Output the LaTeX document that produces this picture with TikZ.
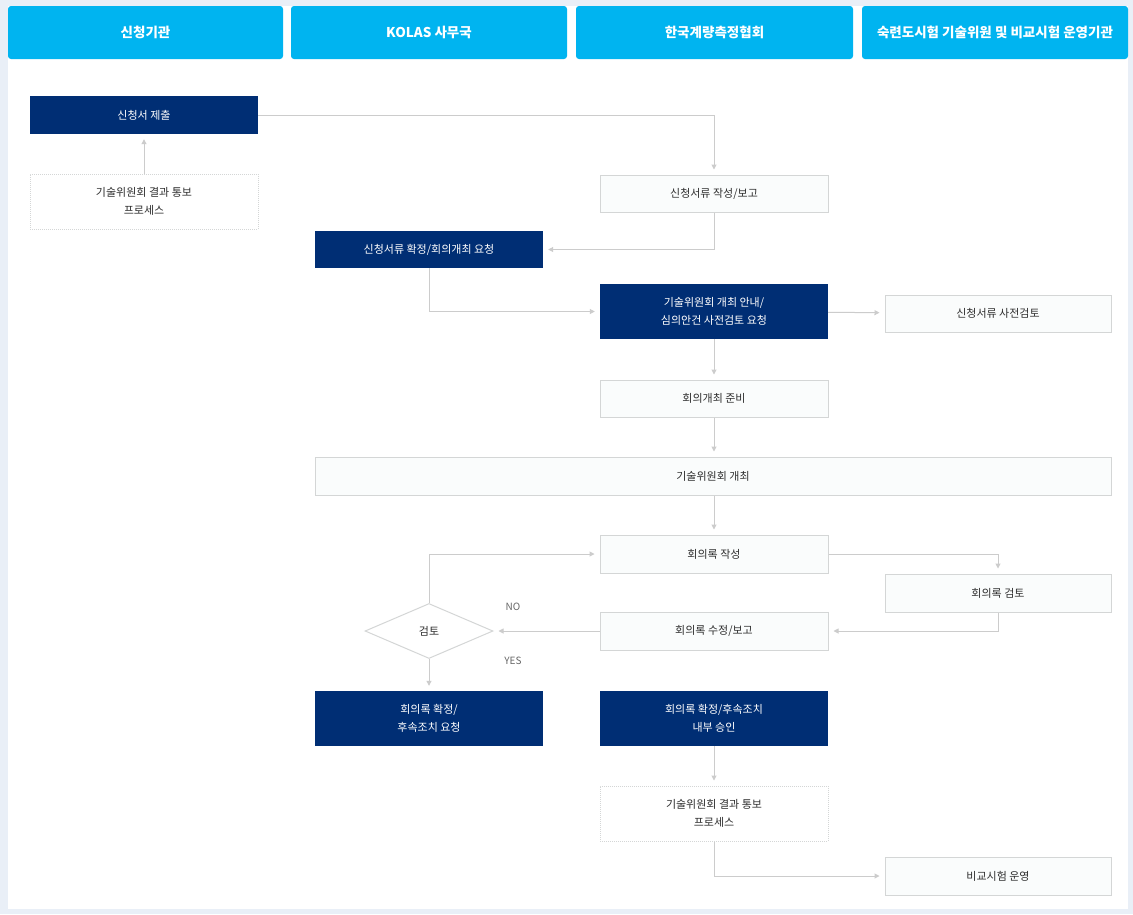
\documentclass[tikz,border=0pt]{standalone}
\usepackage{fontspec}
\setmainfont{Noto Sans CJK KR}
\usetikzlibrary{shapes.geometric, positioning, arrows.meta}
\definecolor{framebg}{HTML}{E9EFF7}
\definecolor{sky}{HTML}{00B4F0}
\definecolor{navy}{HTML}{002E74}
\definecolor{linegray}{HTML}{CCCCCC}
\definecolor{boxfill}{HTML}{FAFCFC}
\definecolor{boxline}{HTML}{D4D6D6}
\definecolor{txt}{HTML}{2E2E2E}
\tikzstyle{lane} = [rectangle, rounded corners=3pt, fill=sky, text=white, font=\fontsize{13.5}{16}\selectfont\bfseries, minimum height=53pt, inner sep=0pt]
\tikzstyle{dark} = [rectangle, fill=navy, text=white, align=center, minimum width=228pt, minimum height=37pt, inner sep=0pt, font=\fontsize{11}{18}\selectfont]
\tikzstyle{light} = [rectangle, draw=boxline, line width=1pt, fill=boxfill, text=txt, align=center, minimum width=228pt, minimum height=37pt, inner sep=0pt, font=\fontsize{11}{18}\selectfont]
\tikzstyle{dotbox} = [light, fill=white, dash pattern=on 1pt off 1pt, minimum height=55pt]
\tikzstyle{check} = [diamond, draw=boxline, line width=1pt, fill=white, text=txt, minimum width=128pt, minimum height=55pt, inner sep=0pt, font=\fontsize{11}{14}\selectfont]
\tikzstyle{tag} = [text=black!60, font=\fontsize{10}{12}\selectfont]
\tikzstyle{myarrow} = [-{Triangle[width=5pt,length=5pt]}, draw=linegray, line width=1pt, shorten >=5pt]

\begin{document}
\begin{tikzpicture}[x=1pt, y=-1pt]
\useasboundingbox (0,0) rectangle (1133,914);
\fill[framebg] (0,0) rectangle (1133,914);
\fill[white] (8,6) rectangle (1128,909);
% lanes
\node(laneA)[lane, minimum width=275pt] at (145.5,32.5) {신청기관};
\node(laneB)[lane, minimum width=276pt] at (429,32.5) {KOLAS 사무국};
\node(laneC)[lane, minimum width=277pt] at (714.5,32.5) {한국계량측정협회};
\node(laneD)[lane, minimum width=266pt] at (995,32.5) {숙련도시험 기술위원 및 비교시험 운영기관};
% steps
\node(submit)[dark, minimum height=38pt] at (144,115) {신청서 제출};
\node(notify1)[dotbox] at (144,201.5) {기술위원회 결과 통보\\프로세스};
\node(report)[light] at (714,193.5) {신청서류 작성/보고};
\node(confirm)[dark] at (429,249.5) {신청서류 확정/회의개최 요청};
\node(notice)[dark, minimum height=55pt] at (714,311.5) {기술위원회 개최 안내/\\심의안건 사전검토 요청};
\node(prereview)[light, minimum width=226pt] at (998,313.5) {신청서류 사전검토};
\node(prepare)[light] at (714,398.5) {회의개최 준비};
\node(meeting)[light, minimum width=796pt, minimum height=38pt] at (713,476) {기술위원회 개최};
\node(minutes)[light, minimum height=38pt] at (714,554) {회의록 작성};
\node(minreview)[light, minimum width=226pt, minimum height=38pt] at (998,593) {회의록 검토};
\node(revise)[light, minimum height=38pt] at (714,631) {회의록 수정/보고};
\node(review)[check] at (429,631) {검토};
\node(final)[dark, minimum height=55pt] at (429,718.5) {회의록 확정/\\후속조치 요청};
\node(approve)[dark, minimum height=55pt] at (714,718.5) {회의록 확정/후속조치\\내부 승인};
\node(notify2)[dotbox] at (714,813.5) {기술위원회 결과 통보\\프로세스};
\node(compare)[light, minimum width=226pt, minimum height=38pt] at (998,876) {비교시험 운영};
\node(no)[tag] at (513,607) {NO};
\node(yes)[tag] at (513,661) {YES};
% flow
\draw [myarrow] (notify1) -- (submit);
\draw [myarrow] (submit.east) -| (report.north);
\draw [myarrow] (report.south) |- (confirm.east);
\draw [myarrow] (confirm.south) |- (notice.west);
\draw [myarrow] (notice) -- (prereview);
\draw [myarrow] (notice) -- (prepare);
\draw [myarrow] (prepare) -- (prepare |- meeting.north);
\draw [myarrow] (minutes |- meeting.south) -- (minutes);
\draw [myarrow] (minutes.east) -| (minreview.north);
\draw [myarrow] (minreview.south) |- (revise.east);
\draw [myarrow] (revise) -- (review);
\draw [myarrow] (review.north) |- (minutes.west);
\draw [myarrow] (review) -- (final);
\draw [myarrow] (approve) -- (notify2);
\draw [myarrow] (notify2.south) |- (compare.west);
\end{tikzpicture}
\end{document}
